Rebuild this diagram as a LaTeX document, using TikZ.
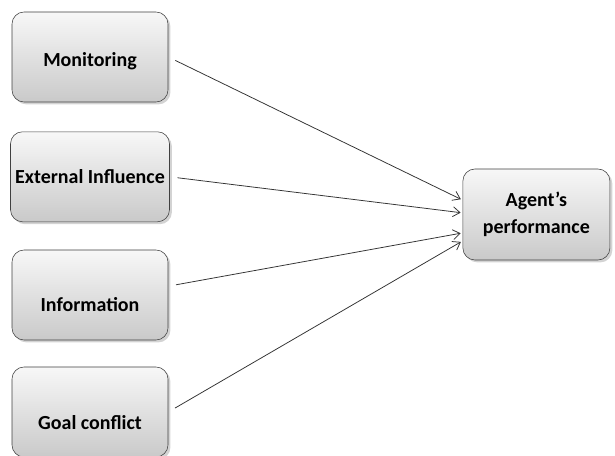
\documentclass[tikz,border=0pt]{standalone}
\usepackage{fontspec}
\setmainfont{Carlito}
\usetikzlibrary{calc,arrows.meta,shadows}

\begin{document}
\begin{tikzpicture}[>={Straight Barb[length=5pt,width=7pt]},line join=round,line cap=round,
    factor/.style={draw=black!75,rounded corners=0.3cm,top color=gray!6,bottom color=gray!42,
      drop shadow={shadow xshift=0.06cm,shadow yshift=-0.06cm,opacity=0.35},
      minimum width=3.9cm,minimum height=2.25cm,align=center,
      font=\fontsize{14.2}{19}\selectfont\bfseries},
    link/.style={->,draw=black!80,line width=0.55pt,shorten <=0.2cm,shorten >=0.05cm}]
    \useasboundingbox (0,0) rectangle (15.375,11.4);
    \node[factor,text height=0.55cm] (mon) at (2.25,9.975){Monitoring};
    \node[factor] (ext) at (2.25,6.98){External Influence};
    \node[factor,text height=0.85cm] (inf) at (2.25,4.025){Information};
    \node[factor,text height=0.9cm] (goal) at (2.25,1.1){Goal conflict};
    \node[factor,minimum width=3.675cm,minimum height=2.275cm] (perf) at (13.41,6.0375){Agent’s\\performance};
    \draw[link] (mon.east)--($(perf.west)+(0,0.36)$);
    \draw[link] (ext.east)--($(perf.west)+(0,0.04)$);
    \draw[link] ($(inf.east)+(0,0.22)$)--($(perf.west)+(0,-0.46)$);
    \draw[link] (goal.east)--($(perf.west)+(0,-0.66)$);
  \end{tikzpicture}
\end{document}
